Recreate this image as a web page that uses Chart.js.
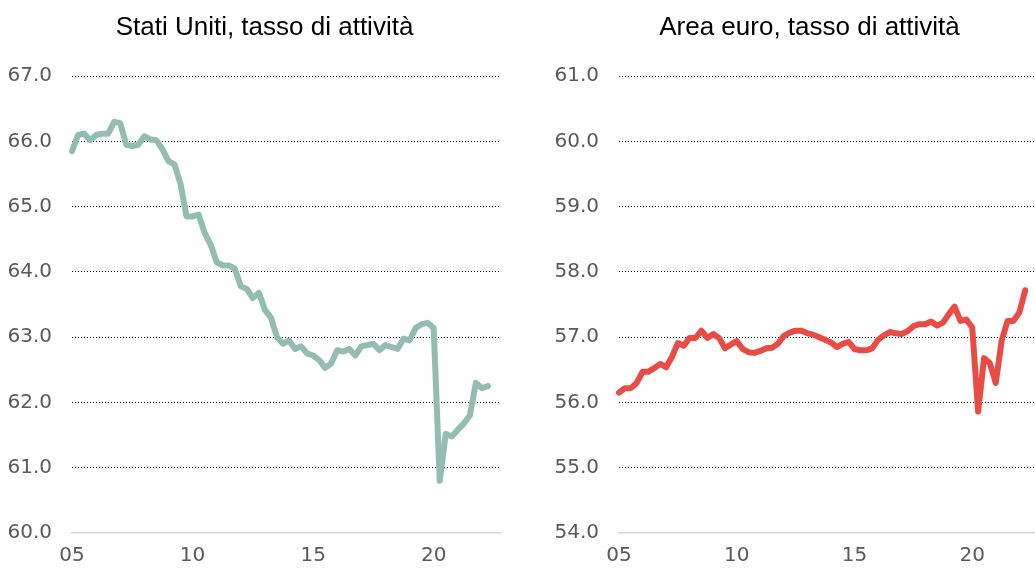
<!DOCTYPE html>
<html>
<head>
<meta charset="utf-8">
<script src="https://cdn.jsdelivr.net/npm/chart.js@4.4.0/dist/chart.umd.min.js"></script>
<style>
  html, body { margin: 0; padding: 0; background: #fff; overflow: hidden; }
  body { width: 1035px; height: 575px; position: relative; }
  .panel { position: absolute; top: 0; height: 575px; width: 526px; }
  #left { left: 0; }
  #right { left: 547px; }
</style>
</head>
<body>
<div class="panel" id="left"><canvas id="usChart"></canvas></div>
<div class="panel" id="right"><canvas id="euChart"></canvas></div>
<script>
// quarterly, 2005Q1 - 2022Q2 (axis runs to 2022Q4)
const firstYear = 2005;
const lastYear = 2022;
const quarters = [];
for (let y = firstYear; y <= lastYear; y++) {
    for (let q = 1; q <= 4; q++) quarters.push(y + 'Q' + q);
}

const usRate = [
    65.85, 66.10, 66.12, 66.02, 66.10, 66.12, 66.12, 66.30, 66.28, 65.95,
    65.93, 65.95, 66.08, 66.03, 66.02, 65.88, 65.70, 65.65, 65.35, 64.85,
    64.85, 64.88, 64.60, 64.42, 64.15, 64.10, 64.10, 64.05, 63.78, 63.74,
    63.60, 63.68, 63.42, 63.30, 63.00, 62.90, 62.95, 62.82, 62.86, 62.75,
    62.72, 62.65, 62.53, 62.60, 62.80, 62.78, 62.82, 62.72, 62.86, 62.88,
    62.90, 62.80, 62.88, 62.85, 62.82, 62.98, 62.95, 63.14, 63.20, 63.22,
    63.14, 60.80, 61.52, 61.48, 61.58, 61.68, 61.80, 62.30, 62.22, 62.25
];

const euRate = [
    56.15, 56.22, 56.22, 56.30, 56.47, 56.47, 56.53, 56.59, 56.54, 56.70,
    56.91, 56.87, 56.99, 56.99, 57.10, 56.99, 57.05, 56.99, 56.83, 56.89,
    56.94, 56.82, 56.77, 56.76, 56.79, 56.83, 56.84, 56.90, 57.02, 57.07,
    57.10, 57.10, 57.06, 57.04, 57.00, 56.96, 56.92, 56.85, 56.90, 56.93,
    56.82, 56.80, 56.80, 56.83, 56.96, 57.03, 57.08, 57.06, 57.05, 57.09,
    57.17, 57.20, 57.20, 57.24, 57.18, 57.22, 57.35, 57.47, 57.25, 57.27,
    57.15, 55.86, 56.68, 56.60, 56.30, 56.95, 57.25, 57.25, 57.38, 57.72
];

const usTicks = [60, 67];
const euTicks = [54, 61];

const titleFont = "'Liberation Sans', Arial, sans-serif";
const tickFont = "'DejaVu Sans', sans-serif";

function makeChart(id, title, values, range, colour, rightPad, titleShift) {
    const ctx = document.getElementById(id);
    return new Chart(ctx, {
        type: 'line',
        data: {
            labels: quarters,
            datasets: [{
                data: values,
                borderColor: colour,
                borderWidth: 6,
                borderCapStyle: 'round',
                borderJoinStyle: 'round',
                pointRadius: 0,
                tension: 0,
                fill: false
            }]
        },
        options: {
            responsive: true,
            maintainAspectRatio: false,
            animation: false,
            layout: { padding: { left: 7, right: rightPad, top: 0, bottom: 8 } },
            plugins: {
                legend: { display: false },
                tooltip: { enabled: false },
                title: {
                    display: true,
                    text: title,
                    color: '#000',
                    font: { family: titleFont, size: 26, weight: 'normal' },
                    padding: { top: 12, bottom: 33 }
                }
            },
            scales: {
                x: {
                    grid: { display: false, drawTicks: false },
                    border: { display: true, color: '#d9d9d9', width: 1.5 },
                    afterFit: function(scale) { scale.height = 34; },
                    ticks: {
                        autoSkip: false,
                        maxRotation: 0,
                        padding: 11,
                        color: '#595959',
                        font: { family: tickFont, size: 20 },
                        callback: function(v, i) {
                            const lab = quarters[i];
                            const yr = parseInt(lab.slice(0, 4));
                            if (lab.endsWith('Q1') && yr % 5 === 0) return lab.slice(2, 4);
                            return null;
                        }
                    }
                },
                y: {
                    min: range[0],
                    max: range[1],
                    border: { display: false, dash: [1, 2] },
                    grid: {
                        drawTicks: false,
                        color: function(c) {
                            return c.tick && c.tick.value === range[0] ? 'rgba(0,0,0,0)' : '#000';
                        },
                        lineWidth: 1
                    },
                    afterFit: function(scale) { scale.width = 65; },
                    ticks: {
                        stepSize: 1,
                        padding: 20,
                        color: '#595959',
                        font: { family: tickFont, size: 20 },
                        callback: v => v.toFixed(1)
                    }
                }
            }
        },
        plugins: [{
            // nudge the title so it sits where it does in the original
            id: 'titleShift',
            afterLayout(chart) {
                const t = chart.titleBlock;
                if (t) { t.left += titleShift; t.right += titleShift; }
            }
        }]
    });
}

makeChart('usChart', 'Stati Uniti, tasso di attività', usRate, usTicks, '#93BDB1', 26, 11);
makeChart('euChart', 'Area euro, tasso di attività', euRate, euTicks, '#E84C45', 36, 14);
</script>
</body>
</html>
